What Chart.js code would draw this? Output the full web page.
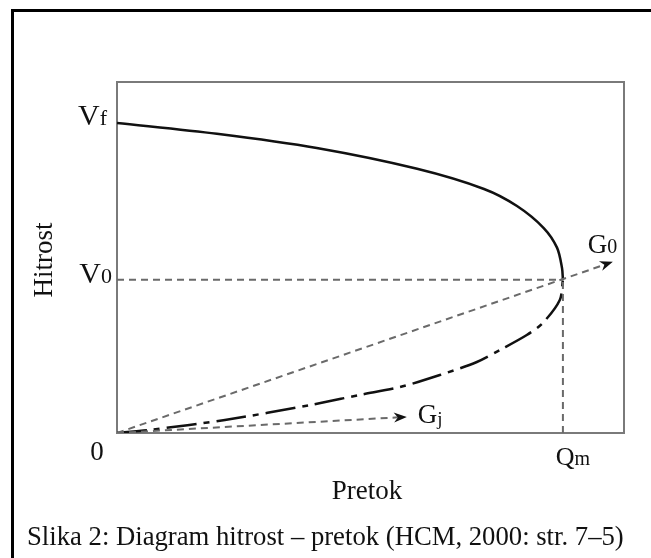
<!DOCTYPE html>
<html>
<head>
<meta charset="utf-8">
<script src="https://cdn.jsdelivr.net/npm/chart.js@4.4.1/dist/chart.umd.min.js"></script>
<style>
  body { margin: 0; background: #fff; }
  #frame { position: absolute; left: 11px; top: 9px; width: 700px; height: 700px;
           border-top: 3px solid #000; border-left: 3px solid #000; }
  #c { position: absolute; left: 0; top: 0; }
</style>
</head>
<body>
<div id="frame"></div>
<canvas id="c" width="651" height="558"></canvas>
<script>
// flow normalised to Qm = 1, speed normalised to Vf = 1
var upperFlow  = [0, 0.224, 0.448, 0.673, 0.823, 0.897, 0.957, 0.987, 0.998, 1.0];
var upperSpeed = [1.0, 0.965, 0.919, 0.852, 0.787, 0.732, 0.661, 0.597, 0.532, 0.494];
var lowerFlow  = [0, 0.074, 0.242, 0.433, 0.545, 0.634, 0.724, 0.807, 0.859, 0.919, 0.955, 0.993, 1.0];
var lowerSpeed = [0, 0.010, 0.042, 0.090, 0.123, 0.148, 0.187, 0.229, 0.268, 0.316, 0.355, 0.429, 0.494];
var QM = 1.0, V0 = 0.494, VF = 1.0;
var g0End = [1.112, 0.552];
var gjEnd = [0.650, 0.052];
var xMax = 1.137, yMax = 1.132;

var xTitle = 'Pretok';
var yTitle = 'Hitrost';
var caption = 'Slika 2: Diagram hitrost \u2013 pretok (HCM, 2000: str. 7\u20135)';

function pts(xs, ys){
      var out = [];
      for(var i = 0; i < xs.length; i++){
            out.push({x: xs[i], y: ys[i]});
      }
      return out;
}

var dashGray = '#6a6a6a';
var serif = '"Liberation Serif", "Times New Roman", serif';

function subLabel(ctx, main, sub, x, y, mainSize, subSize, align, subDrop){
      ctx.font = mainSize + 'px ' + serif;
      var w1 = ctx.measureText(main).width;
      ctx.font = subSize + 'px ' + serif;
      var w2 = ctx.measureText(sub).width;
      var x0 = x;
      if(align == 'right') x0 = x - w1 - w2;
      if(align == 'center') x0 = x - (w1 + w2) / 2;
      ctx.textAlign = 'left';
      ctx.textBaseline = 'alphabetic';
      ctx.font = mainSize + 'px ' + serif;
      ctx.fillText(main, x0, y);
      ctx.font = subSize + 'px ' + serif;
      ctx.fillText(sub, x0 + w1, y + (subDrop || 0));
}

function arrowHead(ctx, xs, ys, xe, ye){
      var a = Math.atan2(ye - ys, xe - xs);
      var len = 13, half = 5;
      ctx.save();
      ctx.translate(xe, ye);
      ctx.rotate(a);
      ctx.beginPath();
      ctx.moveTo(0, 0);
      ctx.lineTo(-len, -half);
      ctx.lineTo(-len + 4, 0);
      ctx.lineTo(-len, half);
      ctx.closePath();
      ctx.fillStyle = '#111';
      ctx.fill();
      ctx.restore();
}

var decor = {
      id: 'decor',
      beforeDatasetsDraw: function(chart){
            var ctx = chart.ctx, a = chart.chartArea;
            ctx.save();
            ctx.strokeStyle = '#7a7a7a';
            ctx.lineWidth = 2;
            ctx.strokeRect(a.left, a.top, a.right - a.left, a.bottom - a.top);
            ctx.restore();
      },
      afterDraw: function(chart){
            var ctx = chart.ctx, a = chart.chartArea;
            var xs = chart.scales.x, ys = chart.scales.y;
            ctx.save();
            ctx.fillStyle = '#111';

            // arrows
            arrowHead(ctx, xs.getPixelForValue(0), ys.getPixelForValue(0),
                  xs.getPixelForValue(g0End[0]), ys.getPixelForValue(g0End[1]));
            arrowHead(ctx, xs.getPixelForValue(0), ys.getPixelForValue(0),
                  xs.getPixelForValue(gjEnd[0]), ys.getPixelForValue(gjEnd[1]));

            // axis marks
            subLabel(ctx, 'V', 'f', a.left - 10, ys.getPixelForValue(VF) + 2, 30, 22, 'right');
            subLabel(ctx, 'V', '0', a.left - 5, ys.getPixelForValue(V0) + 3, 30, 22, 'right');
            ctx.font = '27px ' + serif;
            ctx.textAlign = 'center';
            ctx.fillText('0', a.left - 20, ys.getPixelForValue(0) + 27);
            subLabel(ctx, 'Q', 'm', xs.getPixelForValue(QM) + 10, ys.getPixelForValue(0) + 32, 26, 20, 'center');
            subLabel(ctx, 'G', '0', xs.getPixelForValue(g0End[0]) - 25, ys.getPixelForValue(g0End[1]) - 9, 27, 20, 'left');
            subLabel(ctx, 'G', 'j', xs.getPixelForValue(gjEnd[0]) + 11, ys.getPixelForValue(gjEnd[1]) + 6, 27, 19, 'left', 2);

            // titles
            ctx.font = '27px ' + serif;
            ctx.textAlign = 'center';
            ctx.textBaseline = 'alphabetic';
            ctx.fillText(xTitle, 367, 499);
            ctx.save();
            ctx.translate(52, 260);
            ctx.rotate(-Math.PI / 2);
            ctx.fillText(yTitle, 0, 0);
            ctx.restore();

            ctx.textAlign = 'left';
            ctx.font = '26.7px ' + serif;
            ctx.fillText(caption, 27, 545);
            ctx.restore();
      }
};

var ctx = document.getElementById('c').getContext('2d');
var chart = new Chart(ctx, {
      type: 'scatter',
      data: {
            datasets: [
                  { // V0 guide
                        data: pts([0, QM], [V0, V0]),
                        showLine: true, borderColor: dashGray, borderWidth: 2, borderDash: [7, 5],
                        pointRadius: 0
                  },
                  { // Qm guide
                        data: pts([QM, QM], [0, V0]),
                        showLine: true, borderColor: dashGray, borderWidth: 2, borderDash: [7, 5],
                        pointRadius: 0
                  },
                  { // G0
                        data: pts([0, g0End[0] - 0.02], [0, g0End[1] - 0.02 * g0End[1] / g0End[0]]),
                        showLine: true, borderColor: dashGray, borderWidth: 2, borderDash: [7, 5],
                        pointRadius: 0
                  },
                  { // Gj
                        data: pts([0, gjEnd[0] - 0.02], [0, gjEnd[1] - 0.02 * gjEnd[1] / gjEnd[0]]),
                        showLine: true, borderColor: dashGray, borderWidth: 2, borderDash: [7, 5],
                        pointRadius: 0
                  },
                  { // lower branch
                        data: pts(lowerFlow, lowerSpeed),
                        showLine: true, borderColor: '#111', borderWidth: 2.5, borderDash: [30, 7, 6, 7],
                        tension: 0.3, pointRadius: 0
                  },
                  { // upper branch
                        data: pts(upperFlow, upperSpeed),
                        showLine: true, borderColor: '#111', borderWidth: 2.5,
                        tension: 0.3, pointRadius: 0
                  }
            ]
      },
      options: {
            responsive: false,
            animation: false,
            layout: { padding: { left: 117, top: 82, right: 27, bottom: 125 } },
            plugins: { legend: { display: false }, tooltip: { enabled: false } },
            scales: {
                  x: { type: 'linear', min: 0, max: xMax, display: false },
                  y: { type: 'linear', min: 0, max: yMax, display: false }
            }
      },
      plugins: [decor]
});
</script>
</body>
</html>
